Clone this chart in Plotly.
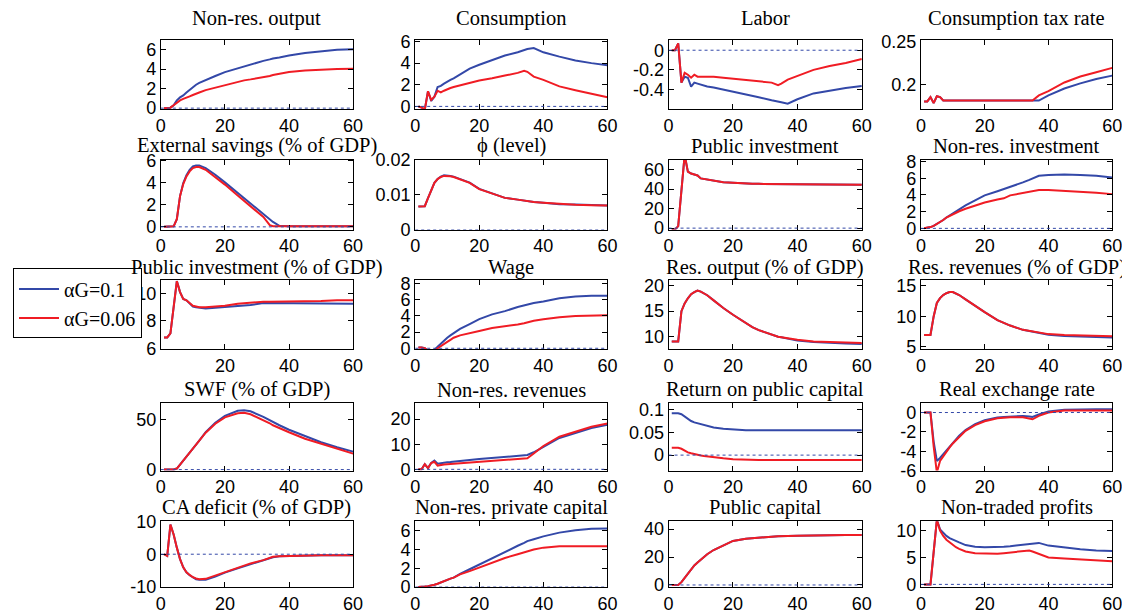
import plotly.graph_objects as go

# ---------------- data ----------------
T = [1, 2, 3, 4, 5, 6, 7, 8, 9, 10, 11, 12, 14, 17, 20, 24, 26, 28, 32, 34, 35, 37, 40, 45, 50, 55, 60]

nonres_output_b = [0, 0, 0.05, 0.3, 0.8, 1.1, 1.3, 1.6, 1.9, 2.2, 2.4, 2.6, 2.9, 3.3, 3.7, 4.1, 4.3, 4.5, 4.85, 5.0, 5.1, 5.2, 5.4, 5.65, 5.85, 6.0, 6.05]
nonres_output_r = [0, 0, 0.05, 0.3, 0.6, 0.8, 0.95, 1.05, 1.2, 1.35, 1.5, 1.6, 1.85, 2.1, 2.4, 2.7, 2.85, 2.95, 3.15, 3.3, 3.4, 3.55, 3.7, 3.85, 3.95, 4.02, 4.05]

consumption_b = [0, -0.1, -0.3, 1.4, 0.5, 0.9, 1.8, 1.9, 2.1, 2.3, 2.45, 2.6, 2.95, 3.5, 3.85, 4.3, 4.5, 4.7, 5.0, 5.2, 5.3, 5.4, 5.0, 4.6, 4.25, 4.0, 3.8]
consumption_r = [0, -0.1, -0.3, 1.4, 0.6, 0.9, 1.45, 1.3, 1.45, 1.6, 1.7, 1.8, 1.95, 2.15, 2.4, 2.6, 2.7, 2.85, 3.1, 3.3, 3.2, 2.75, 2.45, 1.85, 1.5, 1.15, 0.85]

labor_b = [0, 0, 0.07, -0.33, -0.27, -0.28, -0.37, -0.33, -0.34, -0.35, -0.36, -0.37, -0.38, -0.40, -0.42, -0.45, -0.46, -0.48, -0.51, -0.52, -0.53, -0.545, -0.5, -0.44, -0.41, -0.385, -0.365]
labor_r = [0, 0, 0.07, -0.33, -0.23, -0.25, -0.28, -0.25, -0.27, -0.27, -0.27, -0.27, -0.27, -0.28, -0.29, -0.30, -0.305, -0.31, -0.33, -0.355, -0.34, -0.30, -0.26, -0.2, -0.16, -0.13, -0.09]

taxrate_b = [0.18, 0.18, 0.185, 0.178, 0.186, 0.185, 0.181, 0.181, 0.181, 0.181, 0.181, 0.181, 0.181, 0.181, 0.181, 0.181, 0.181, 0.181, 0.181, 0.181, 0.181, 0.181, 0.187, 0.195, 0.201, 0.206, 0.21]
taxrate_r = [0.18, 0.18, 0.185, 0.178, 0.186, 0.185, 0.181, 0.181, 0.181, 0.181, 0.181, 0.181, 0.181, 0.181, 0.181, 0.181, 0.181, 0.181, 0.181, 0.181, 0.181, 0.187, 0.192, 0.202, 0.209, 0.214, 0.219]

extsav_b = [0, 0, 0, 0.05, 0.7, 2.8, 4.0, 4.7, 5.2, 5.5, 5.6, 5.6, 5.35, 4.75, 4.05, 3.1, 2.6, 2.15, 1.2, 0.7, 0.45, 0.1, 0.05, 0.05, 0.05, 0.05, 0.05]
extsav_r = [0, 0, 0, 0.05, 0.7, 2.8, 3.9, 4.6, 5.05, 5.35, 5.45, 5.45, 5.2, 4.55, 3.85, 2.85, 2.35, 1.9, 0.9, 0.15, 0.05, 0.05, 0.05, 0.05, 0.05, 0.05, 0.05]

phi_b = [0.0066, 0.0066, 0.0067, 0.009, 0.0115, 0.0134, 0.0145, 0.0152, 0.0156, 0.0156, 0.0154, 0.0152, 0.0146, 0.0135, 0.0117, 0.0104, 0.0097, 0.0091, 0.0086, 0.0083, 0.0082, 0.0079, 0.0077, 0.0073, 0.0072, 0.007, 0.0069]
phi_r = [0.0066, 0.0066, 0.0067, 0.009, 0.0115, 0.0134, 0.0145, 0.0151, 0.0154, 0.0154, 0.0153, 0.0151, 0.0145, 0.0134, 0.0116, 0.0104, 0.0097, 0.0091, 0.0086, 0.0083, 0.0082, 0.0079, 0.0077, 0.0073, 0.0071, 0.007, 0.0069]

pubinv_b = [-1, -1.5, 2, 40, 75, 58, 56, 55, 54, 51, 50.5, 50, 48.5, 47, 46.5, 45.5, 45.5, 45.4, 45.3, 44.5, 44.5, 44.5, 44.5, 44.5, 44.5, 44.5, 44.5]
pubinv_r = [-1, -1.5, 2, 40, 75, 58, 56, 55, 54, 51, 50.5, 50, 48.5, 47, 46.5, 45.5, 45.5, 45.4, 45.3, 44.5, 44.5, 44.5, 44.5, 44.5, 44.5, 44.5, 44.5]

nrinv_b = [0, 0.05, 0.15, 0.3, 0.5, 0.75, 1.0, 1.3, 1.55, 1.8, 2.05, 2.3, 2.75, 3.35, 3.95, 4.45, 4.7, 5.0, 5.5, 5.8, 6.0, 6.3, 6.4, 6.45, 6.4, 6.3, 6.1]
nrinv_r = [0, 0.05, 0.15, 0.3, 0.5, 0.75, 1.0, 1.3, 1.5, 1.7, 1.9, 2.05, 2.35, 2.7, 3.1, 3.45, 3.6, 3.95, 4.25, 4.45, 4.5, 4.6, 4.6, 4.5, 4.4, 4.25, 4.1]

pubinvgdp_b = [6.8, 6.8, 7.1, 9.0, 10.9, 10.1, 9.6, 9.5, 9.3, 9.05, 9.0, 8.95, 8.9, 8.95, 9.0, 9.1, 9.15, 9.15, 9.3, 9.3, 9.3, 9.3, 9.3, 9.3, 9.3, 9.28, 9.25]
pubinvgdp_r = [6.8, 6.8, 7.1, 9.0, 10.9, 10.1, 9.6, 9.5, 9.3, 9.1, 9.05, 9.0, 9.0, 9.05, 9.1, 9.25, 9.3, 9.3, 9.4, 9.4, 9.4, 9.4, 9.4, 9.4, 9.45, 9.5, 9.5]

wage_b = [0.1, 0.1, 0, -0.3, -0.4, -0.2, 0.2, 0.6, 1.0, 1.3, 1.6, 1.9, 2.4, 3.0, 3.6, 4.2, 4.4, 4.6, 5.1, 5.3, 5.4, 5.6, 5.8, 6.2, 6.4, 6.5, 6.5]
wage_r = [0.1, 0.1, 0, -0.3, -0.4, -0.3, 0, 0.3, 0.55, 0.8, 1.05, 1.3, 1.6, 1.9, 2.15, 2.5, 2.6, 2.75, 2.95, 3.1, 3.2, 3.4, 3.6, 3.85, 4.0, 4.05, 4.1]

resout_b = [9.1, 9.1, 9.1, 15, 16.5, 17.5, 18.3, 18.7, 19, 18.8, 18.5, 18.1, 17.1, 15.6, 14.3, 12.6, 11.9, 11.3, 10.4, 10.0, 9.9, 9.6, 9.25, 9.0, 8.8, 8.7, 8.6]
resout_r = [9.1, 9.1, 9.1, 15, 16.5, 17.5, 18.3, 18.7, 19, 18.8, 18.5, 18.1, 17.1, 15.6, 14.3, 12.6, 11.9, 11.3, 10.4, 10.0, 9.9, 9.7, 9.4, 9.1, 8.95, 8.85, 8.8]

resrev_b = [6.95, 6.95, 6.95, 10, 12.2, 13, 13.5, 13.8, 14, 14, 13.8, 13.5, 12.8, 11.7, 10.7, 9.4, 8.9, 8.5, 7.8, 7.6, 7.5, 7.2, 7.0, 6.8, 6.7, 6.6, 6.55]
resrev_r = [6.95, 6.95, 6.95, 10, 12.2, 13, 13.5, 13.8, 14, 14, 13.8, 13.5, 12.8, 11.7, 10.7, 9.4, 8.9, 8.5, 7.8, 7.6, 7.5, 7.3, 7.1, 6.95, 6.85, 6.8, 6.75]

swf_b = [0, 0, 0, 0, 1, 5, 8.5, 12, 16, 20, 24.5, 29, 37.5, 47, 54, 59, 59.5, 58.5, 53, 49.5, 47.5, 44.5, 40, 33.5, 27.5, 22.5, 18]
swf_r = [0, 0, 0, 0, 1, 5, 8.5, 12, 16, 20, 24.5, 29, 37, 46, 52.5, 56.5, 57, 55.5, 50, 46.5, 44.5, 41.5, 37.5, 31, 26, 21, 16]

nrrev_b = [0, 0, 2.0, 0.5, 2.5, 3.5, 2.2, 2.5, 2.65, 2.8, 2.9, 3.0, 3.3, 3.7, 4.1, 4.5, 4.7, 4.9, 5.2, 5.5, 5.7, 6.8, 9, 12.5, 14.5, 16.5, 17.8]
nrrev_r = [0, 0, 2.0, 0.5, 2.5, 3.0, 1.5, 1.8, 1.9, 2.0, 2.1, 2.2, 2.5, 2.8, 3.0, 3.4, 3.55, 3.7, 4.0, 4.2, 4.4, 6.3, 9.3, 13, 15, 17, 18.3]

retpk_b = [0.092, 0.092, 0.092, 0.09, 0.085, 0.079, 0.075, 0.072, 0.07, 0.068, 0.066, 0.064, 0.061, 0.058, 0.056, 0.055, 0.055, 0.055, 0.055, 0.055, 0.055, 0.055, 0.055, 0.055, 0.055, 0.055, 0.055]
retpk_r = [0.016, 0.016, 0.016, 0.014, 0.009, 0.006, 0.004, 0.002, 0.0, -0.001, -0.002, -0.003, -0.005, -0.007, -0.009, -0.0105, -0.011, -0.011, -0.011, -0.011, -0.011, -0.011, -0.011, -0.011, -0.011, -0.011, -0.011]

rer_b = [0, 0, 0, -3.0, -5.0, -4.7, -4.3, -3.9, -3.5, -3.1, -2.8, -2.4, -1.8, -1.2, -0.8, -0.5, -0.45, -0.4, -0.35, -0.4, -0.45, -0.2, 0.1, 0.3, 0.35, 0.35, 0.35]
rer_r = [0, 0, 0, -3.5, -6.2, -5.0, -4.5, -4.0, -3.6, -3.2, -2.9, -2.5, -1.9, -1.3, -0.9, -0.6, -0.55, -0.5, -0.5, -0.6, -0.7, -0.35, 0.0, 0.2, 0.2, 0.2, 0.2]

ca_b = [0, -0.5, 9, 6, 2, -1.5, -4, -5.5, -6.4, -7.1, -7.6, -7.8, -7.8, -6.8, -5.6, -4.3, -3.7, -3.1, -2.0, -1.4, -0.9, -0.6, -0.5, -0.4, -0.3, -0.3, -0.3]
ca_r = [0, -0.5, 9, 6, 2, -1.5, -4, -5.5, -6.3, -7, -7.4, -7.6, -7.5, -6.5, -5.3, -4, -3.4, -2.8, -1.8, -1.2, -0.8, -0.6, -0.5, -0.4, -0.3, -0.3, -0.3]

nrcap_b = [0, 0, 0.05, 0.1, 0.15, 0.25, 0.35, 0.5, 0.6, 0.75, 0.9, 1.0, 1.4, 1.9, 2.4, 3.1, 3.45, 3.8, 4.4, 4.7, 4.9, 5.1, 5.4, 5.8, 6.05, 6.2, 6.25]
nrcap_r = [0, 0, 0.05, 0.1, 0.15, 0.25, 0.35, 0.5, 0.6, 0.75, 0.9, 1.0, 1.35, 1.7, 2.1, 2.6, 2.85, 3.1, 3.5, 3.7, 3.8, 4.0, 4.2, 4.35, 4.35, 4.35, 4.35]

pubcap_b = [0, 0, 0, 2, 5, 8, 11, 14, 16, 18, 20, 22, 25, 28.5, 31.5, 33, 33.5, 34, 34.5, 34.8, 35, 35, 35.2, 35.5, 35.7, 35.8, 35.8]
pubcap_r = [0, 0, 0, 2, 5, 8, 11, 14, 16, 18, 20, 22, 25, 28.5, 31.5, 33, 33.5, 34, 34.5, 34.8, 35, 35, 35.2, 35.5, 35.7, 35.8, 35.8]

ntprof_b = [0, 0, 0, 6, 12, 10.2, 9.5, 9.0, 8.6, 8.3, 8.0, 7.8, 7.3, 7.0, 6.9, 6.9, 7.0, 7.1, 7.4, 7.5, 7.6, 7.7, 7.2, 6.8, 6.5, 6.3, 6.2]
ntprof_r = [0, 0, 0, 6, 12, 10, 9, 8.3, 7.8, 7.3, 6.9, 6.6, 6.1, 5.8, 5.7, 5.7, 5.8, 5.9, 6.2, 6.3, 6.1, 5.6, 5.0, 4.8, 4.6, 4.4, 4.3]

titles = ["Non-res. output", "Consumption", "Labor", "Consumption tax rate",
          "External savings (% of GDP)", "\u03d5 (level)", "Public investment", "Non-res. investment",
          "Public investment (% of GDP)", "Wage", "Res. output (% of GDP)", "Res. revenues (% of GDP)",
          "SWF (% of GDP)", "Non-res. revenues", "Return on public capital", "Real exchange rate",
          "CA deficit (% of GDP)", "Non-res. private capital", "Public capital", "Non-traded profits"]

series_blue = [nonres_output_b, consumption_b, labor_b, taxrate_b,
               extsav_b, phi_b, pubinv_b, nrinv_b,
               pubinvgdp_b, wage_b, resout_b, resrev_b,
               swf_b, nrrev_b, retpk_b, rer_b,
               ca_b, nrcap_b, pubcap_b, ntprof_b]
series_red = [nonres_output_r, consumption_r, labor_r, taxrate_r,
              extsav_r, phi_r, pubinv_r, nrinv_r,
              pubinvgdp_r, wage_r, resout_r, resrev_r,
              swf_r, nrrev_r, retpk_r, rer_r,
              ca_r, nrcap_r, pubcap_r, ntprof_r]

y_ranges = [[-0.1, 6.95], [-0.25, 6.1], [-0.6, 0.1], [0.171, 0.251],
            [-0.25, 6.1], [0, 0.02], [-1.5, 70], [-0.15, 8.2],
            [5.95, 10.95], [-0.1, 8.4], [7.6, 21], [4.65, 15.9],
            [-1, 67], [-0.5, 26.5], [-0.034, 0.115], [-6, 1],
            [-10, 10], [0, 7], [-1.5, 45.5], [-0.5, 11.7]]
y_ticks = [[0, 2, 4, 6], [0, 2, 4, 6], [-0.4, -0.2, 0], [0.2, 0.25],
           [0, 2, 4, 6], [0, 0.01, 0.02], [0, 20, 40, 60], [0, 2, 4, 6, 8],
           [6, 8, 10], [0, 2, 4, 6, 8], [10, 15, 20], [5, 10, 15],
           [0, 50], [0, 10, 20], [0, 0.05, 0.1], [-6, -4, -2, 0],
           [-10, 0, 10], [0, 2, 4, 6], [0, 20, 40], [0, 5, 10]]
y_ticktext = [["0", "2", "4", "6"], ["0", "2", "4", "6"], ["-0.4", "-0.2", "0"], ["0.2", "0.25"],
              ["0", "2", "4", "6"], ["0", "0.01", "0.02"], ["0", "20", "40", "60"], ["0", "2", "4", "6", "8"],
              ["6", "8", "10"], ["0", "2", "4", "6", "8"], ["10", "15", "20"], ["5", "10", "15"],
              ["0", "50"], ["0", "10", "20"], ["0", "0.05", "0.1"], ["-6", "-4", "-2", "0"],
              ["-10", "0", "10"], ["0", "2", "4", "6"], ["0", "20", "40"], ["0", "5", "10"]]
x_ticks = [0, 20, 40, 60]
x_ticks_row3_col1 = [20, 40, 60]
legend_labels = ["\u03b1G=0.1", "\u03b1G=0.06"]

# ---------------- layout geometry (target screen pixels) ----------------
W, H = 1130, 613
COLS = [(161, 353), (415, 607), (668, 861), (920, 1111)]
ROWS = [(39, 108), (159, 229), (280, 349), (403, 471), (522, 588)]
TITLE_Y = [17, 145, 267, 390, 508]
# empirical screen <- figure mapping observed in the rendered picture
SX, BX = 0.9853, 13.4
SY, BY = 0.9715, 16.5

BLUE = "#3348a8"
RED = "#f01c24"
SANS = "Liberation Sans, Arial, sans-serif"
SERIF = "Liberation Serif, Times New Roman, serif"


def px(x):
    return max(0.0, (x - BX) / SX) / W


def py(y):
    return 1 - max(0.0, (y - BY) / SY) / H


fig = go.Figure()
layout = dict(width=W, height=H, margin=dict(l=0, r=0, t=0, b=0),
              paper_bgcolor="white", plot_bgcolor="white", showlegend=True)
annotations = []
shapes = []

for i in range(20):
    r, c = divmod(i, 4)
    n = "" if i == 0 else str(i + 1)
    x0, x1 = COLS[c]
    y0, y1 = ROWS[r]
    ax_common = dict(showline=True, linecolor="black", linewidth=1, mirror="ticks",
                     ticks="inside", ticklen=5, tickcolor="black", tickwidth=1,
                     showgrid=False, zeroline=False,
                     tickfont=dict(family=SANS, size=18, color="black"))
    xt = x_ticks_row3_col1 if i == 8 else x_ticks
    layout["xaxis" + n] = dict(domain=[px(x0), px(x1)], anchor="y" + n, range=[0, 60],
                               tickmode="array", tickvals=xt,
                               ticktext=[str(v) for v in xt], **ax_common)
    layout["yaxis" + n] = dict(domain=[py(y1), py(y0)], anchor="x" + n, range=y_ranges[i],
                               tickmode="array", tickvals=y_ticks[i], ticktext=y_ticktext[i],
                               **ax_common)
    yr = y_ranges[i]
    if yr[0] <= 0 <= yr[1]:
        shapes.append(dict(type="line", xref="x" + n, yref="y" + n, x0=0, x1=60, y0=0, y1=0,
                           line=dict(color=BLUE, width=1, dash="dot"), layer="above"))
    fig.add_trace(go.Scatter(x=T, y=series_blue[i], mode="lines", line=dict(color=BLUE, width=2),
                             xaxis="x" + n, yaxis="y" + n, name=legend_labels[0],
                             showlegend=(i == 0), legendgroup="b"))
    fig.add_trace(go.Scatter(x=T, y=series_red[i], mode="lines", line=dict(color=RED, width=2),
                             xaxis="x" + n, yaxis="y" + n, name=legend_labels[1],
                             showlegend=(i == 0), legendgroup="r"))
    annotations.append(dict(text=titles[i], xref="paper", yref="paper",
                            x=px((x0 + x1) / 2), y=py(TITLE_Y[r]),
                            xanchor="center", yanchor="middle", showarrow=False,
                            font=dict(family=SERIF, size=20.5, color="black")))

layout["annotations"] = annotations
layout["shapes"] = shapes
layout["legend"] = dict(x=px(8), y=py(268), xanchor="left", yanchor="top",
                        bordercolor="black", borderwidth=1, bgcolor="white",
                        font=dict(family=SERIF, size=20, color="black"),
                        tracegroupgap=0, itemwidth=40)
fig.update_layout(**layout)
fig.write_html("out.html")
